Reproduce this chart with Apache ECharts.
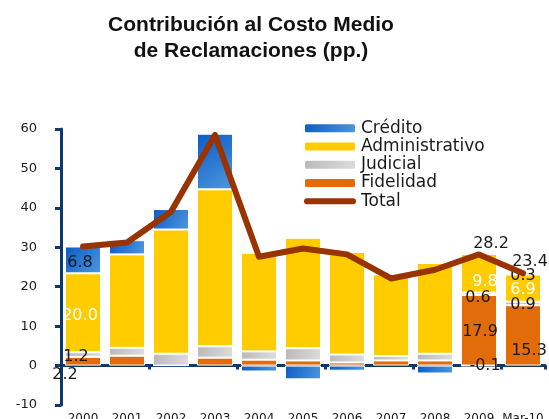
<!DOCTYPE html>
<html>
<head>
<meta charset="utf-8">
<script src="https://cdn.jsdelivr.net/npm/echarts@6/dist/echarts.min.js"></script>
<style>
  html, body { margin: 0; padding: 0; background: #fff; }
  #chart { width: 549px; height: 419px; }
</style>
</head>
<body>
<div id="chart"></div>
<script>
const categories = ['2000', '2001', '2002', '2003', '2004', '2005', '2006', '2007', '2008', '2009', 'Mar-10']
const fidelidad = [2.2, 2.5, 0, 2.0, 1.5, 1.3, 0.8, 1.3, 1.3, 17.9, 15.3]
const judicial = [1.2, 2.0, 3.0, 2.9, 2.1, 3.1, 2.0, 1.1, 1.7, 0.6, 0.9]
const administrativo = [20.0, 23.7, 31.5, 39.8, 25.0, 28.0, 26.0, 20.7, 23.0, 9.8, 6.9]
const credito = [6.8, 3.6, 5.2, 14.1, -1.5, -3.5, -1.3, 0, -2.0, -0.1, 0.3]
const total = [30.2, 31.2, 39.0, 58.5, 27.6, 29.7, 28.2, 22.1, 24.3, 28.2, 23.4]

const FONT = 'DejaVu Sans'
const NAVY = '#0d3a6e'
const TEXT = '#1a1a1a'
const LINE_COLOR = '#993300'

// label tweaks per point, keyed by category index
function withLabels(values, spec) {
  return values.map((v, i) => {
    const s = spec[i]
    if (!s) return v
    return {
      value: v,
      label: {
        show: true,
        position: s.position || 'inside',
        offset: s.offset,
        color: s.color || TEXT,
        fontFamily: FONT,
        fontSize: 16,
        formatter: (p) => Number(p.value).toFixed(1)
      }
    }
  })
}

const chart = echarts.init(document.getElementById('chart'))

const barBase = {
  type: 'bar',
  stack: 'c',
  barWidth: 36,
  xAxisIndex: 0,
  itemStyle: { borderColor: '#fff', borderWidth: 1 }
}

chart.setOption({
  animation: false,
  title: {
    text: 'Contribución al Costo Medio\nde Reclamaciones (pp.)',
    left: 246,
    top: 7,
    textAlign: 'center',
    textStyle: {
      fontFamily: 'Liberation Sans',
      fontWeight: 'bold',
      fontSize: 21,
      lineHeight: 26,
      color: '#111'
    }
  },
  legend: {
    orient: 'vertical',
    left: 303,
    top: 119,
    padding: 0,
    itemWidth: 52,
    itemHeight: 10,
    itemGap: 0,
    symbolKeepAspect: true,
    data: [
      'Crédito',
      'Administrativo',
      'Judicial',
      'Fidelidad',
      {
        name: 'Total',
        icon: 'path://M3,0 H49 A3,3 0 0 1 49,6 H3 A3,3 0 0 1 3,0 Z',
        itemStyle: { color: LINE_COLOR }
      }
    ],
    textStyle: { fontFamily: FONT, fontSize: 17, lineHeight: 18.3, color: TEXT }
  },
  grid: { left: 61, right: 4, top: 129, bottom: 14, containLabel: false, outerBoundsMode: 'none' },
  xAxis: [
    {
      type: 'category',
      data: categories,
      axisLine: { onZero: true, lineStyle: { color: NAVY, width: 3 } },
      axisTick: { show: true, length: 4, lineStyle: { color: NAVY, width: 3 } },
      axisLabel: { show: false },
      splitLine: { show: false }
    },
    {
      type: 'category',
      data: categories,
      position: 'bottom',
      axisLine: { show: false, onZero: false },
      axisTick: { show: false },
      axisLabel: { interval: 0, margin: 8, fontFamily: FONT, fontSize: 12, color: TEXT }
    }
  ],
  yAxis: {
    type: 'value',
    min: -10,
    max: 60,
    interval: 10,
    axisLine: { show: true, lineStyle: { color: NAVY, width: 3 } },
    axisTick: { show: true, length: 6, lineStyle: { color: NAVY, width: 3 } },
    axisLabel: { margin: 24, fontFamily: FONT, fontSize: 13, color: TEXT },
    splitLine: { show: false }
  },
  series: [
    {
      ...barBase,
      name: 'Fidelidad',
      color: '#e36c0a',
      data: withLabels(fidelidad, {
        0: { offset: [-18, 14] },
        9: { offset: [1, 2] },
        10: { offset: [6, 15] }
      })
    },
    {
      ...barBase,
      name: 'Judicial',
      color: new echarts.graphic.LinearGradient(0, 0, 1, 1, [
        { offset: 0, color: '#b8b8b8' },
        { offset: 1, color: '#dedede' }
      ]),
      data: withLabels(judicial, {
        0: { offset: [-7, 2] },
        9: { offset: [-1, 4] },
        10: { offset: [0, 1] }
      })
    },
    {
      ...barBase,
      name: 'Administrativo',
      color: '#ffcc00',
      data: withLabels(administrativo, {
        0: { offset: [-3, 3], color: '#fff' },
        9: { offset: [6, 9], color: '#fff' },
        10: { offset: [0, 2], color: '#fff' }
      })
    },
    {
      ...barBase,
      name: 'Crédito',
      color: new echarts.graphic.LinearGradient(0, 0, 1, 1, [
        { offset: 0, color: '#0a5cc6' },
        { offset: 1, color: '#4f97de' }
      ]),
      data: withLabels(credito, {
        0: { offset: [-3, 3] },
        9: { offset: [6, 0] },
        10: { offset: [0, 2] }
      })
    },
    {
      name: 'Total',
      type: 'line',
      xAxisIndex: 0,
      color: LINE_COLOR,
      symbol: 'circle',
      symbolSize: 2,
      lineStyle: { width: 6, color: LINE_COLOR, cap: 'round', join: 'round' },
      z: 5,
      data: withLabels(total, {
        9: { offset: [12, -11] },
        10: { offset: [7, -11] }
      })
    }
  ]
})
</script>
</body>
</html>
